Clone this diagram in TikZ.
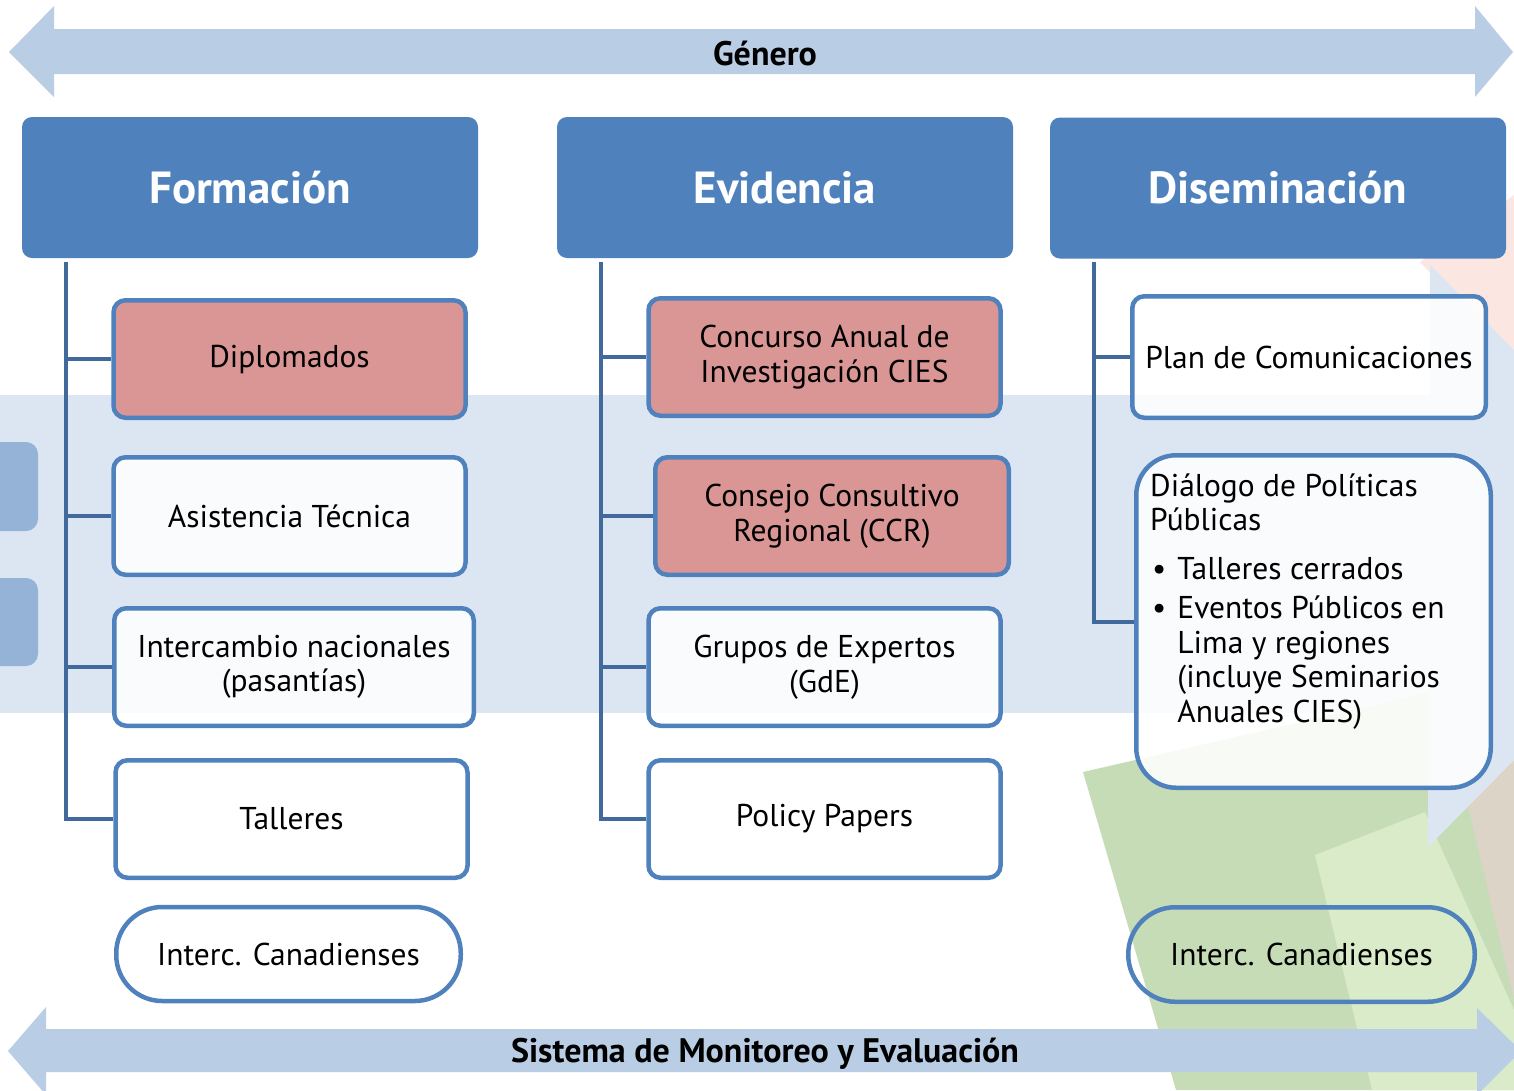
\documentclass[tikz,border=0pt]{standalone}
\usepackage{fontspec}
\setmainfont{PT Sans}
\usetikzlibrary{positioning,calc}

\definecolor{headblue}{HTML}{4F81BD}
\definecolor{linkblue}{HTML}{41699C}
\definecolor{arrowblue}{HTML}{B9CDE5}
\definecolor{bandblue}{HTML}{DCE6F2}
\definecolor{tabblue}{HTML}{95B3D7}
\definecolor{rosefill}{HTML}{D99694}
\definecolor{darkleaf}{HTML}{C6DCB6}
\definecolor{lightleaf}{HTML}{D9EBC9}
\definecolor{dustred}{HTML}{DCD4C6}
\definecolor{blush}{HTML}{FAD6CE}

\tikzset{
    head box/.style={fill=headblue,rounded corners=10pt,minimum width=456pt,minimum height=141pt,
        text=white,font=\fontsize{45}{52}\selectfont\bfseries},
    item box/.style={draw=headblue,line width=4.5pt,rounded corners=12pt,fill=white,fill opacity=.88,
        text opacity=1,minimum width=352pt,minimum height=117.5pt,align=center,
        font=\fontsize{31.5}{34.5}\selectfont},
    rose box/.style={item box,fill=rosefill,fill opacity=1},
    pill box/.style={item box,fill=none,rounded corners=46pt,minimum height=94pt},
    tree/.style={draw=linkblue,line width=4pt},
    band label/.style={font=\fontsize{34}{40}\selectfont\bfseries},
}

\begin{document}
\begin{tikzpicture}[x=1pt,y=-1pt]
    \useasboundingbox (0,0) rectangle (1514,1090);
    % background
    \fill[bandblue] (0,395) rectangle (1514,713);
    \fill[blush,opacity=.6] (1420,262) -- (1514,195) -- (1514,360) -- cycle;
    \fill[dustred] (1420,770) -- (1514,690) -- (1514,1000) -- cycle;
    \fill[darkleaf] (1083,772) -- (1440,690) -- (1514,1000) -- (1514,1090) -- (1176,1090) -- cycle;
    \fill[lightleaf] (1315,855) -- (1425,812) -- (1514,1010) -- (1514,1090) -- (1372,1090) -- cycle;
    \fill[bandblue] (1430,265) -- (1514,350) -- (1514,760) -- (1428,847) -- cycle;
    \fill[tabblue,rounded corners=12pt] (-20,442) rectangle (38,531);
    \fill[tabblue,rounded corners=12pt] (-20,578) rectangle (38,666);
    % arrows
    \fill[arrowblue] (9,52) -- (54,6) -- (54,29) -- (1475,29) -- (1475,6) -- (1513,52)
        -- (1475,97) -- (1475,74) -- (54,74) -- (54,97) -- cycle;
    \fill[arrowblue] (8,1051) -- (46,1007) -- (46,1029) -- (1477,1029) -- (1477,1008) -- (1521,1051)
        -- (1477,1095) -- (1477,1072) -- (46,1072) -- (46,1095) -- cycle;
    \node[band label] (genero) at (765,53) {Género};
    \node[band label] (sme) at (765,1054) {Sistema de Monitoreo y Evaluación};

    % headers
    \node[head box] (formacion) at (250,187.5) {Formación};
    \node[head box] (evidencia) at (785,187.5) {Evidencia};
    \node[head box] (disemina) at (1278,188) {Diseminación};

    % Formacion
    \node[rose box] (diplo) at (289.5,359) {Diplomados};
    \node[item box] (asist) at (289.5,516) {Asistencia Técnica};
    \node[item box,minimum width=359.5pt] (interc) at (294,667) {Intercambio nacionales\\(pasantías)};
    \node[item box] (talleres) at (291.5,819) {Talleres};
    \node[pill box,minimum width=344.5pt] (canad) at (288.5,954) {Interc. Canadienses};

    % Evidencia
    \node[rose box] (concurso) at (824.5,357) {Concurso Anual de\\Investigación CIES};
    \node[rose box,minimum width=353.5pt] (consejo) at (832,516) {Consejo Consultivo\\Regional (CCR)};
    \node[item box] (grupos) at (824.5,667) {Grupos de Expertos\\(GdE)};
    \node[item box] (policy) at (824.5,819) {Policy Papers};

    % Diseminacion
    \node[item box,minimum width=353.5pt,minimum height=121.5pt] (plan) at (1309,357) {Plan de Comunicaciones};
    \node[item box,rounded corners=40pt,minimum width=354.5pt,minimum height=332.5pt] (dlg) at (1313.5,621.5) {};
    \node[anchor=north west,inner sep=0pt,font=\fontsize{31.5}{34.5}\selectfont] (dlgtxt)
        at ([xshift=16pt,yshift=-19pt]dlg.north west) {%
        \begin{tabular}{@{}l@{\hspace{11pt}}l@{}}
        \multicolumn{2}{@{}l@{}}{Diálogo de Políticas}\\
        \multicolumn{2}{@{}l@{}}{Públicas}\\[14pt]
        \hspace{2pt}\textbullet & Talleres cerrados\\[5pt]
        \hspace{2pt}\textbullet & Eventos Públicos en\\
        & Lima y regiones\\
        & (incluye Seminarios\\
        & Anuales CIES)
        \end{tabular}};
    \node[pill box,minimum width=346.5pt,minimum height=94.5pt,rounded corners=47pt] (canadr) at (1301.5,954.5) {Interc. Canadienses};

    % tree lines
    \coordinate (ftop) at (66,262);
    \draw[tree] (ftop) -- (ftop |- talleres.west) -- (talleres.west);
    \foreach \n in {diplo,asist,interc}
        \draw[tree] (ftop |- \n.west) -- (\n.west);
    \coordinate (etop) at (601,262);
    \draw[tree] (etop) -- (etop |- policy.west) -- (policy.west);
    \foreach \n in {concurso,consejo,grupos}
        \draw[tree] (etop |- \n.west) -- (\n.west);
    \coordinate (dtop) at (1094,262);
    \draw[tree] (dtop) -- (dtop |- dlg.west) -- (dlg.west);
    \draw[tree] (dtop |- plan.west) -- (plan.west);
\end{tikzpicture}
\end{document}
